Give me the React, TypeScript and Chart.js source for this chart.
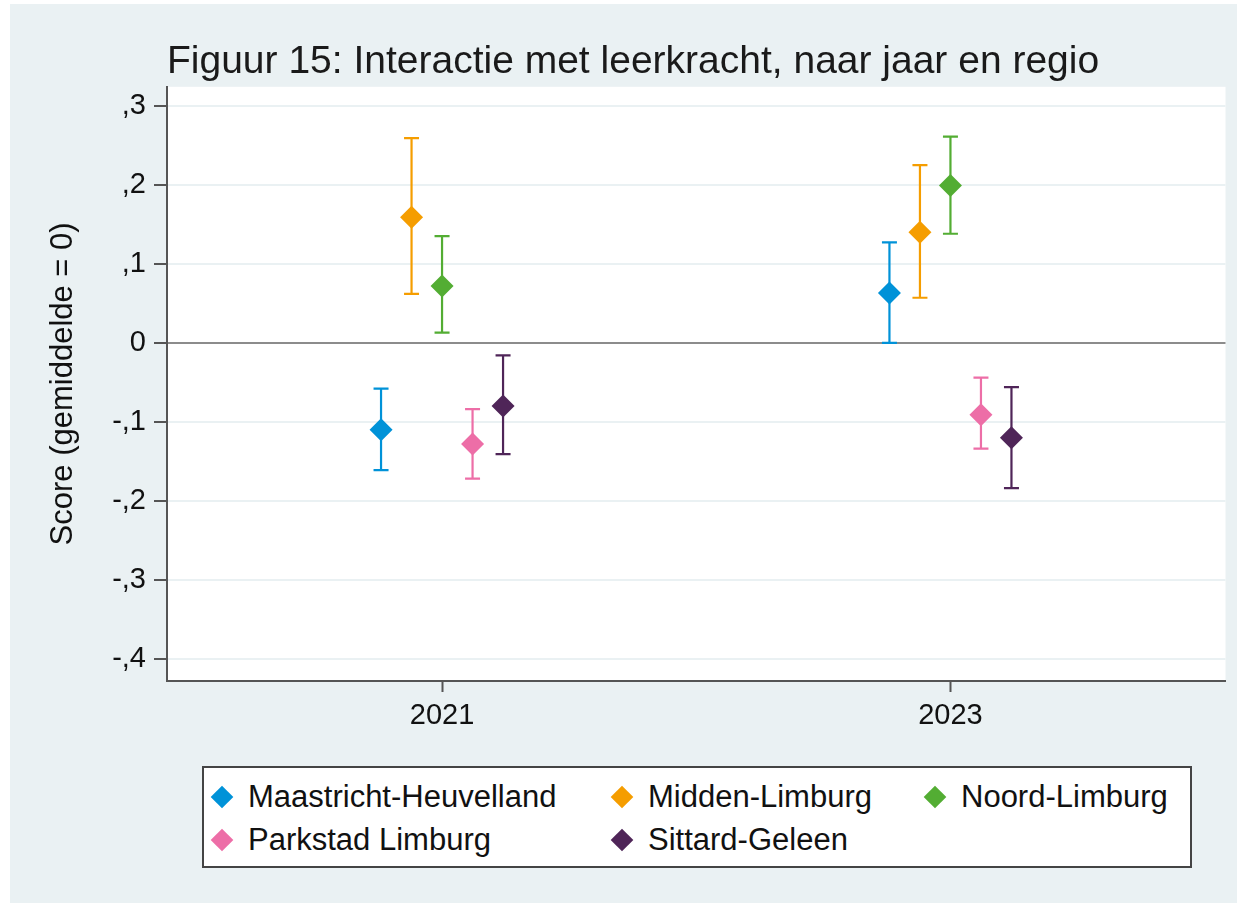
import React, { useEffect, useRef } from "react";
import { Chart, registerables } from "chart.js";

Chart.register(...registerables);

// ---- Data ----
const years = [2021, 2023];
const regions = [
  "Maastricht-Heuvelland",
  "Midden-Limburg",
  "Noord-Limburg",
  "Parkstad Limburg",
  "Sittard-Geleen",
];
const mean2021 = [-0.110, 0.159, 0.072, -0.128, -0.080];
const lo2021 = [-0.161, 0.062, 0.013, -0.172, -0.141];
const hi2021 = [-0.058, 0.259, 0.135, -0.084, -0.016];
const mean2023 = [0.063, 0.140, 0.199, -0.091, -0.120];
const lo2023 = [0.000, 0.057, 0.138, -0.134, -0.184];
const hi2023 = [0.127, 0.225, 0.261, -0.044, -0.056];
const yTickValues = [-0.4, -0.3, -0.2, -0.1, 0, 0.1, 0.2, 0.3];
const yTickLabels = ["-,4", "-,3", "-,2", "-,1", "0", ",1", ",2", ",3"];
const xTickLabels = ["2021", "2023"];

const titleText = "Figuur 15: Interactie met leerkracht, naar jaar en regio";
const yTitle = "Score (gemiddelde = 0)";

// ---- Styles ----
const colors = ["#0092d8", "#f59d00", "#53ad33", "#ed6ea7", "#4f2558"];
const dodge = [-0.24, -0.12, 0, 0.12, 0.24];
const FONT = "'Liberation Sans', Arial, Helvetica, sans-serif";
const OUTER_BG = "#eaf1f3";
const AXIS = "#555555";

const means = [mean2021, mean2023];
const los = [lo2021, lo2023];
const his = [hi2021, hi2023];

const bgPlugin = {
  id: "bgPlugin",
  beforeDraw(chart: any) {
    const { ctx, chartArea, width, height } = chart;
    ctx.save();
    ctx.fillStyle = "#ffffff";
    ctx.fillRect(0, 0, width, height);
    ctx.fillStyle = OUTER_BG;
    ctx.fillRect(10, 4, width - 10, height - 4);
    ctx.fillStyle = "#ffffff";
    ctx.fillRect(chartArea.left, chartArea.top, chartArea.right - chartArea.left, chartArea.bottom - chartArea.top);
    ctx.restore();
  },
};

const errorBarPlugin = {
  id: "errorBars",
  beforeDatasetsDraw(chart: any) {
    const { ctx } = chart;
    const xs = chart.scales.x;
    const ys = chart.scales.y;
    ctx.save();
    ctx.lineWidth = 2.2;
    regions.forEach((_, i) => {
      ctx.strokeStyle = colors[i];
      years.forEach((yr, j) => {
        const x = xs.getPixelForValue(yr + dodge[i]);
        const yLo = ys.getPixelForValue(los[j][i]);
        const yHi = ys.getPixelForValue(his[j][i]);
        const cap = 7.5;
        ctx.beginPath();
        ctx.moveTo(x, yLo);
        ctx.lineTo(x, yHi);
        ctx.moveTo(x - cap, yLo);
        ctx.lineTo(x + cap, yLo);
        ctx.moveTo(x - cap, yHi);
        ctx.lineTo(x + cap, yHi);
        ctx.stroke();
      });
    });
    ctx.restore();
  },
};

function LegendItem({ label, color, left, top }: any) {
  return (
    <div style={{ position: "absolute", left, top, height: 30, display: "flex", alignItems: "center" }}>
      <div style={{ width: 37, height: 30, position: "relative" }}>
        <div
          style={{
            position: "absolute",
            left: 3,
            top: 7,
            width: 16,
            height: 16,
            background: color,
            transform: "rotate(45deg)",
          }}
        />
      </div>
      <span style={{ fontFamily: FONT, fontSize: 31, color: "#111", whiteSpace: "nowrap", lineHeight: "30px" }}>{label}</span>
    </div>
  );
}

export default function App() {
  const canvasRef = useRef<HTMLCanvasElement>(null);

  useEffect(() => {
    document.body.style.margin = "0";
    const datasets = regions.map((name, i) => ({
      label: name,
      data: years.map((yr, j) => ({ x: yr + dodge[i], y: means[j][i] })),
      backgroundColor: colors[i],
      borderColor: colors[i],
      borderWidth: 0,
      pointStyle: "rectRot",
      pointRadius: 11.5,
      pointHoverRadius: 11.5,
      showLine: false,
    }));
    const chart = new Chart(canvasRef.current as HTMLCanvasElement, {
      type: "scatter",
      data: { datasets },
      options: {
        animation: false,
        responsive: false,
        maintainAspectRatio: false,
        events: [],
        layout: { padding: { top: 34, right: 10, bottom: 162, left: 0 } },
        plugins: {
          legend: { display: false },
          tooltip: { enabled: false },
          title: {
            display: true,
            text: titleText,
            align: "start",
            fullSize: false,
            color: "#1a1a1a",
            font: { family: FONT, size: 39, weight: "normal" },
            padding: { top: 5, bottom: 1 },
          },
        },
        scales: {
          x: {
            type: "linear",
            min: 2019.918,
            max: 2024.082,
            afterBuildTicks: (scale: any) => {
              scale.ticks = years.map((v) => ({ value: v }));
            },
            afterFit: (scale: any) => {
              scale.height = 60;
            },
            ticks: {
              autoSkip: false,
              maxRotation: 0,
              padding: 7,
              color: "#111",
              font: { family: FONT, size: 29 },
              callback: (v: any) => {
                const k = years.indexOf(Math.round(Number(v)));
                return k >= 0 ? xTickLabels[k] : "";
              },
            },
            grid: {
              display: true,
              drawOnChartArea: false,
              drawTicks: true,
              tickLength: 11,
              tickColor: AXIS,
              tickWidth: 2,
            },
            border: { display: true, color: AXIS, width: 2 },
          },
          y: {
            type: "linear",
            min: -0.428,
            max: 0.324,
            afterBuildTicks: (scale: any) => {
              scale.ticks = yTickValues.map((v) => ({ value: v }));
            },
            afterFit: (scale: any) => {
              scale.width = 167;
            },
            ticks: {
              autoSkip: false,
              padding: 8,
              color: "#111",
              font: { family: FONT, size: 29 },
              callback: (v: any) => {
                const k = yTickValues.findIndex((t) => Math.abs(t - Number(v)) < 1e-9);
                return k >= 0 ? yTickLabels[k] : "";
              },
            },
            grid: {
              display: true,
              drawOnChartArea: true,
              drawTicks: true,
              tickLength: 13,
              tickColor: AXIS,
              tickWidth: 2,
              lineWidth: 2,
              color: (ctx: any) => (ctx.tick && Math.abs(ctx.tick.value) < 1e-9 ? "#8c8c8c" : "#eaf1f3"),
            },
            border: { display: true, color: AXIS, width: 2 },
            title: {
              display: true,
              text: yTitle,
              color: "#111",
              font: { family: FONT, size: 31 },
              padding: { top: 45, bottom: 0 },
            },
          },
        },
      },
      plugins: [bgPlugin, errorBarPlugin],
    } as any);
    return () => chart.destroy();
  }, []);

  const legendPos = [
    { left: 211, top: 782 },
    { left: 611, top: 782 },
    { left: 924, top: 782 },
    { left: 211, top: 825 },
    { left: 611, top: 825 },
  ];

  return (
    <div style={{ position: "relative", width: 1237, height: 903, overflow: "hidden" }}>
      <canvas ref={canvasRef} width={1237} height={903} style={{ position: "absolute", left: 0, top: 0 }} />
      <div
        style={{
          position: "absolute",
          left: 202,
          top: 766,
          width: 990,
          height: 102,
          boxSizing: "border-box",
          border: "2px solid #444",
          background: "#ffffff",
        }}
      />
      {regions.map((r, i) => (
        <LegendItem key={r} label={r} color={colors[i]} left={legendPos[i].left} top={legendPos[i].top} />
      ))}
    </div>
  );
}
